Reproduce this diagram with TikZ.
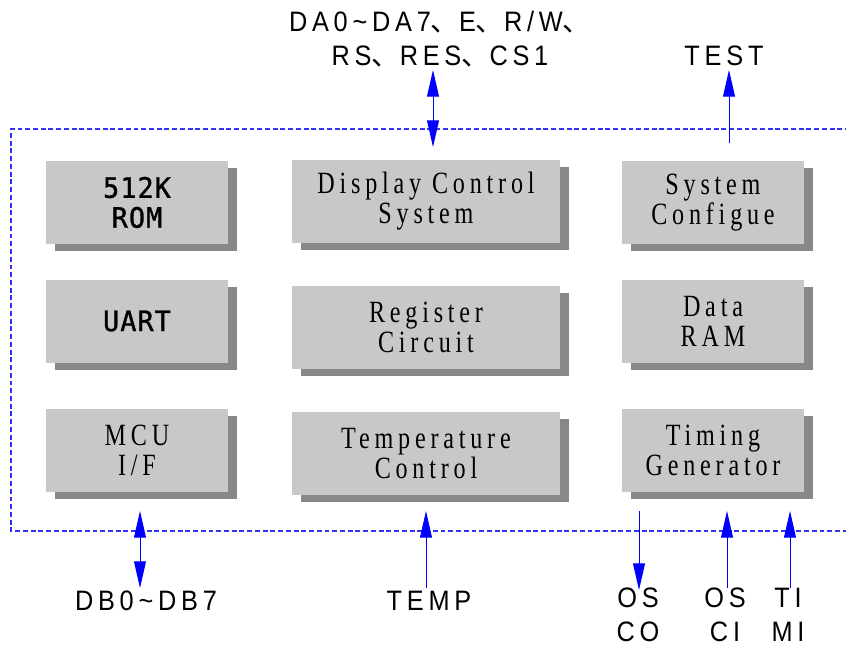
\documentclass[tikz,border=0pt]{standalone}
\usepackage{fontspec}
\setmainfont{Liberation Sans}
\newfontfamily\labelfont[FakeStretch=0.9,LetterSpace=17]{Liberation Sans}
\newfontfamily\songfont[FakeStretch=0.78,LetterSpace=15.5]{Liberation Serif}
\newfontfamily\heifont[FakeStretch=0.95,FakeBold=1.2,LetterSpace=4]{DejaVu Sans Mono}
\newfontfamily\cjk{Noto Sans CJK SC}
\usetikzlibrary{arrows.meta,shadows}

\definecolor{boxgray}{RGB}{200,200,200}
\definecolor{shadegray}{RGB}{136,136,136}
\definecolor{frameblue}{RGB}{50,50,255}
\newcommand{\dun}{{\cjk 、}}

\begin{document}
\begin{tikzpicture}
  [x=0.025cm,y=-0.025cm,
   block/.style={fill=boxgray,minimum height=2.075cm,inner sep=0pt,align=center,
     drop shadow={shadow xshift=0.225cm,shadow yshift=-0.175cm,fill=shadegray,opacity=1}},
   narrow/.style={block,minimum width=4.55cm},
   wide/.style={block,minimum width=6.7cm},
   serif/.style={font=\songfont\fontsize{22}{21.3}\selectfont},
   hei/.style={font=\heifont\fontsize{20}{21.3}\selectfont},
   pin/.style={font=\labelfont\fontsize{20}{24}\selectfont,align=center,inner sep=0pt},
   bus/.style={blue,line width=0.7pt,-{Triangle[width=8.5pt,length=19pt]}},
   bibus/.style={bus,{Triangle[width=8.5pt,length=19pt]}-{Triangle[width=8.5pt,length=19pt]}}]
  \useasboundingbox (0,0) rectangle (846,647);

  % chip outline
  \draw[frameblue,line width=0.8pt,dash pattern=on 3.5pt off 2pt]
    (850,129) -- (11,129) -- (11,531) -- (850,531);

  \node[narrow,hei] (rom) at (137,202.5) {512K\\ROM};
  \node[narrow,hei] (uart) at (137,321) {UART};
  \node[narrow,serif] (mcu) at (137,450.5) {MCU\\I/F};
  \node[wide,serif] (disp) at (426,201.5) {Display Control\\System};
  \node[wide,serif] (reg) at (426,327.5) {Register\\Circuit};
  \node[wide,serif] (tctl) at (426,453.5) {Temperature\\Control};
  \node[narrow,serif] (cfg) at (713,202.5) {System\\Configue};
  \node[narrow,serif] (ram) at (713,321.5) {Data\\RAM};
  \node[narrow,serif] (tgen) at (713,450.5) {Timing\\Generator};

  \node[pin] (dapins) at (440,39) {DA0\textasciitilde DA7\dun E\dun R/W\dun\\RS\dun RES\dun CS1};
  \node[pin] (test) at (724,56) {TEST};
  \node[pin] (dbpins) at (146,601) {DB0\textasciitilde DB7};
  \node[pin] (temp) at (429,601) {TEMP};
  \node[pin] (osco) at (638,615) {OS\\CO};
  \node[pin] (osci) at (725,615) {OS\\CI};
  \node[pin] (timi) at (788,615) {TI\\MI};

  \coordinate (da1) at (433,147); \coordinate (da2) at (433,70);
  \coordinate (ts1) at (729,143); \coordinate (ts2) at (729,70);
  \coordinate (db1) at (140,511); \coordinate (db2) at (140,588);
  \coordinate (tp1) at (426,588); \coordinate (tp2) at (426,511);
  \coordinate (oo1) at (639,511); \coordinate (oo2) at (639,590);
  \coordinate (oi1) at (727,588); \coordinate (oi2) at (727,511);
  \coordinate (tm1) at (790,588); \coordinate (tm2) at (790,511);

  \foreach \from/\to in {da1/da2, db1/db2}
    \draw[bibus] (\from) -- (\to);
  \foreach \from/\to in {ts1/ts2, tp1/tp2, oo1/oo2, oi1/oi2, tm1/tm2}
    \draw[bus] (\from) -- (\to);

\end{tikzpicture}
\end{document}
